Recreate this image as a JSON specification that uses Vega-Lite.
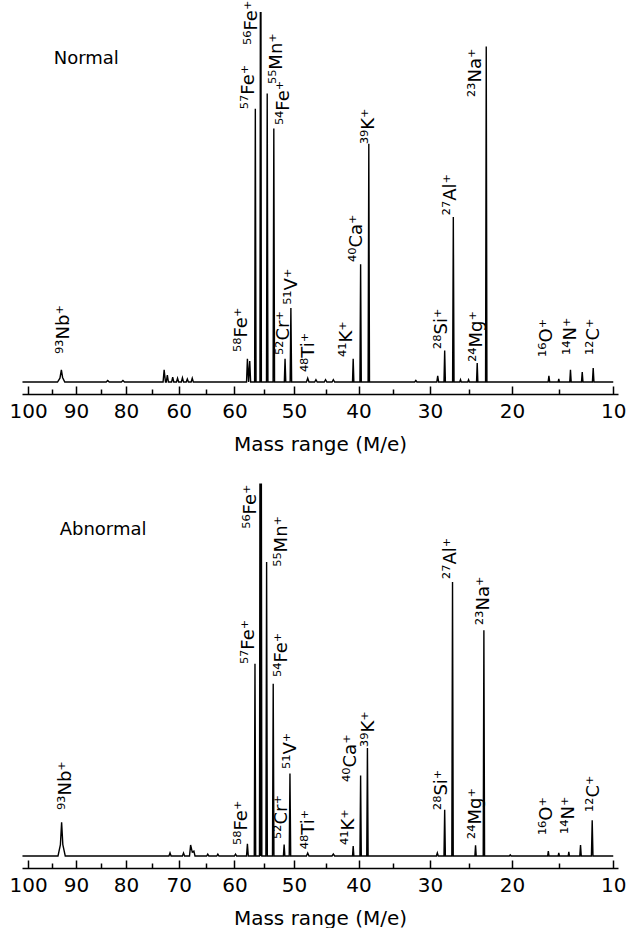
{
  "$schema": "https://vega.github.io/schema/vega-lite/v6.json",
  "padding": {"left": 8, "top": 0, "right": 0, "bottom": 0},
  "bounds": "flush",
  "spacing": 94,
  "background": "white",
  "resolve": {"scale": {"x": "independent", "y": "independent"}, "axis": {"x": "independent"}},
  "config": {"view": {"stroke": null}, "font": "DejaVu Sans"},
  "datasets": {
    "spec": [
      {"panel":"Normal","mass":101.2,"intensity":0},
      {"panel":"Normal","mass":93.8,"intensity":0},{"panel":"Normal","mass":93.3,"intensity":1.0},{"panel":"Normal","mass":93.0,"intensity":3.2},{"panel":"Normal","mass":92.75,"intensity":1.2},{"panel":"Normal","mass":92.3,"intensity":0},
      {"panel":"Normal","mass":83.9,"intensity":0},{"panel":"Normal","mass":83.6,"intensity":0.4},{"panel":"Normal","mass":83.3,"intensity":0},
      {"panel":"Normal","mass":80.9,"intensity":0},{"panel":"Normal","mass":80.6,"intensity":0.4},{"panel":"Normal","mass":80.3,"intensity":0},
      {"panel":"Normal","mass":72.9,"intensity":0},{"panel":"Normal","mass":72.7,"intensity":3.2},{"panel":"Normal","mass":72.45,"intensity":0},
      {"panel":"Normal","mass":72.3,"intensity":0},{"panel":"Normal","mass":72.1,"intensity":1.8},{"panel":"Normal","mass":71.9,"intensity":0},
      {"panel":"Normal","mass":71.3,"intensity":0},{"panel":"Normal","mass":71.1,"intensity":1.3},{"panel":"Normal","mass":70.9,"intensity":0},
      {"panel":"Normal","mass":70.4,"intensity":0},{"panel":"Normal","mass":70.2,"intensity":1.0},{"panel":"Normal","mass":70.0,"intensity":0},
      {"panel":"Normal","mass":69.5,"intensity":0},{"panel":"Normal","mass":69.3,"intensity":1.1},{"panel":"Normal","mass":69.1,"intensity":0},
      {"panel":"Normal","mass":68.6,"intensity":0},{"panel":"Normal","mass":68.4,"intensity":0.8},{"panel":"Normal","mass":68.2,"intensity":0},
      {"panel":"Normal","mass":67.7,"intensity":0},{"panel":"Normal","mass":67.5,"intensity":1.0},{"panel":"Normal","mass":67.3,"intensity":0},
      {"panel":"Normal","mass":57.9,"intensity":0},{"panel":"Normal","mass":57.75,"intensity":6.1},{"panel":"Normal","mass":57.55,"intensity":0},{"panel":"Normal","mass":57.35,"intensity":5.5},{"panel":"Normal","mass":57.2,"intensity":0},
      {"panel":"Normal","mass":56.52,"intensity":0},{"panel":"Normal","mass":56.4,"intensity":71.9},{"panel":"Normal","mass":56.28,"intensity":0},
      {"panel":"Normal","mass":55.62,"intensity":0},{"panel":"Normal","mass":55.55,"intensity":97.4},{"panel":"Normal","mass":55.5,"intensity":0},{"panel":"Normal","mass":55.45,"intensity":97.4},{"panel":"Normal","mass":55.38,"intensity":0},
      {"panel":"Normal","mass":54.52,"intensity":0},{"panel":"Normal","mass":54.4,"intensity":75.9},{"panel":"Normal","mass":54.28,"intensity":0},
      {"panel":"Normal","mass":53.42,"intensity":0},{"panel":"Normal","mass":53.3,"intensity":66.7},{"panel":"Normal","mass":53.18,"intensity":0},
      {"panel":"Normal","mass":51.57,"intensity":0},{"panel":"Normal","mass":51.45,"intensity":6.1},{"panel":"Normal","mass":51.33,"intensity":0},
      {"panel":"Normal","mass":50.62,"intensity":0},{"panel":"Normal","mass":50.5,"intensity":19.5},{"panel":"Normal","mass":50.38,"intensity":0},
      {"panel":"Normal","mass":48.0,"intensity":0},{"panel":"Normal","mass":47.8,"intensity":1.0},{"panel":"Normal","mass":47.6,"intensity":0},
      {"panel":"Normal","mass":46.7,"intensity":0},{"panel":"Normal","mass":46.5,"intensity":0.6},{"panel":"Normal","mass":46.3,"intensity":0},
      {"panel":"Normal","mass":45.2,"intensity":0},{"panel":"Normal","mass":45.0,"intensity":0.6},{"panel":"Normal","mass":44.8,"intensity":0},
      {"panel":"Normal","mass":44.0,"intensity":0},{"panel":"Normal","mass":43.8,"intensity":0.6},{"panel":"Normal","mass":43.6,"intensity":0},
      {"panel":"Normal","mass":40.9,"intensity":0},{"panel":"Normal","mass":40.8,"intensity":6.1},{"panel":"Normal","mass":40.7,"intensity":0},
      {"panel":"Normal","mass":39.8,"intensity":0},{"panel":"Normal","mass":39.7,"intensity":31.0},{"panel":"Normal","mass":39.6,"intensity":0},
      {"panel":"Normal","mass":38.6,"intensity":0},{"panel":"Normal","mass":38.5,"intensity":62.7},{"panel":"Normal","mass":38.4,"intensity":0},
      {"panel":"Normal","mass":32.05,"intensity":0},{"panel":"Normal","mass":31.9,"intensity":0.4},{"panel":"Normal","mass":31.75,"intensity":0},
      {"panel":"Normal","mass":29.12,"intensity":0},{"panel":"Normal","mass":29.0,"intensity":1.6},{"panel":"Normal","mass":28.88,"intensity":0},
      {"panel":"Normal","mass":28.19,"intensity":0},{"panel":"Normal","mass":28.1,"intensity":8.3},{"panel":"Normal","mass":28.01,"intensity":0},
      {"panel":"Normal","mass":27.09,"intensity":0},{"panel":"Normal","mass":27.0,"intensity":43.4},{"panel":"Normal","mass":26.91,"intensity":0},
      {"panel":"Normal","mass":26.2,"intensity":0},{"panel":"Normal","mass":26.1,"intensity":0.6},{"panel":"Normal","mass":26.0,"intensity":0},
      {"panel":"Normal","mass":25.2,"intensity":0},{"panel":"Normal","mass":25.1,"intensity":0.6},{"panel":"Normal","mass":25.0,"intensity":0},
      {"panel":"Normal","mass":24.13,"intensity":0},{"panel":"Normal","mass":24.05,"intensity":5.0},{"panel":"Normal","mass":23.97,"intensity":0},
      {"panel":"Normal","mass":23.05,"intensity":0},{"panel":"Normal","mass":22.97,"intensity":88.3},{"panel":"Normal","mass":22.89,"intensity":0},
      {"panel":"Normal","mass":16.12,"intensity":0},{"panel":"Normal","mass":16.04,"intensity":1.6},{"panel":"Normal","mass":15.96,"intensity":0},
      {"panel":"Normal","mass":15.1,"intensity":0},{"panel":"Normal","mass":15.04,"intensity":0.8},{"panel":"Normal","mass":14.98,"intensity":0},
      {"panel":"Normal","mass":13.96,"intensity":0},{"panel":"Normal","mass":13.89,"intensity":3.2},{"panel":"Normal","mass":13.82,"intensity":0},
      {"panel":"Normal","mass":12.84,"intensity":0},{"panel":"Normal","mass":12.77,"intensity":2.6},{"panel":"Normal","mass":12.7,"intensity":0},
      {"panel":"Normal","mass":11.83,"intensity":0},{"panel":"Normal","mass":11.76,"intensity":3.7},{"panel":"Normal","mass":11.69,"intensity":0},
      {"panel":"Normal","mass":10.0,"intensity":0},

      {"panel":"Abnormal","mass":101.2,"intensity":0},
      {"panel":"Abnormal","mass":93.7,"intensity":0},{"panel":"Abnormal","mass":93.2,"intensity":3.0},{"panel":"Abnormal","mass":92.95,"intensity":8.9},{"panel":"Abnormal","mass":92.7,"intensity":3.0},{"panel":"Abnormal","mass":92.2,"intensity":0},
      {"panel":"Abnormal","mass":71.8,"intensity":0},{"panel":"Abnormal","mass":71.6,"intensity":0.8},{"panel":"Abnormal","mass":71.4,"intensity":0},
      {"panel":"Abnormal","mass":69.3,"intensity":0},{"panel":"Abnormal","mass":69.1,"intensity":0.8},{"panel":"Abnormal","mass":68.9,"intensity":0},
      {"panel":"Abnormal","mass":68.0,"intensity":0},{"panel":"Abnormal","mass":67.8,"intensity":2.9},{"panel":"Abnormal","mass":67.5,"intensity":1.0},{"panel":"Abnormal","mass":67.2,"intensity":1.3},{"panel":"Abnormal","mass":67.0,"intensity":0},
      {"panel":"Abnormal","mass":64.9,"intensity":0},{"panel":"Abnormal","mass":64.7,"intensity":0.5},{"panel":"Abnormal","mass":64.5,"intensity":0},
      {"panel":"Abnormal","mass":63.1,"intensity":0},{"panel":"Abnormal","mass":62.9,"intensity":0.5},{"panel":"Abnormal","mass":62.7,"intensity":0},
      {"panel":"Abnormal","mass":60.0,"intensity":0},{"panel":"Abnormal","mass":59.8,"intensity":0.5},{"panel":"Abnormal","mass":59.6,"intensity":0},
      {"panel":"Abnormal","mass":57.9,"intensity":0},{"panel":"Abnormal","mass":57.75,"intensity":3.2},{"panel":"Abnormal","mass":57.6,"intensity":0},
      {"panel":"Abnormal","mass":56.58,"intensity":0},{"panel":"Abnormal","mass":56.46,"intensity":50.6},{"panel":"Abnormal","mass":56.34,"intensity":0},
      {"panel":"Abnormal","mass":55.7,"intensity":0},{"panel":"Abnormal","mass":55.62,"intensity":98.0},{"panel":"Abnormal","mass":55.5,"intensity":0},{"panel":"Abnormal","mass":55.38,"intensity":98.0},{"panel":"Abnormal","mass":55.3,"intensity":0},
      {"panel":"Abnormal","mass":54.62,"intensity":0},{"panel":"Abnormal","mass":54.5,"intensity":77.4},{"panel":"Abnormal","mass":54.38,"intensity":0},
      {"panel":"Abnormal","mass":53.52,"intensity":0},{"panel":"Abnormal","mass":53.4,"intensity":45.3},{"panel":"Abnormal","mass":53.28,"intensity":0},
      {"panel":"Abnormal","mass":51.72,"intensity":0},{"panel":"Abnormal","mass":51.6,"intensity":3.0},{"panel":"Abnormal","mass":51.48,"intensity":0},
      {"panel":"Abnormal","mass":50.77,"intensity":0},{"panel":"Abnormal","mass":50.65,"intensity":21.7},{"panel":"Abnormal","mass":50.53,"intensity":0},
      {"panel":"Abnormal","mass":48.0,"intensity":0},{"panel":"Abnormal","mass":47.8,"intensity":0.8},{"panel":"Abnormal","mass":47.6,"intensity":0},
      {"panel":"Abnormal","mass":44.0,"intensity":0},{"panel":"Abnormal","mass":43.8,"intensity":0.5},{"panel":"Abnormal","mass":43.6,"intensity":0},
      {"panel":"Abnormal","mass":40.9,"intensity":0},{"panel":"Abnormal","mass":40.8,"intensity":2.6},{"panel":"Abnormal","mass":40.7,"intensity":0},
      {"panel":"Abnormal","mass":39.8,"intensity":0},{"panel":"Abnormal","mass":39.7,"intensity":21.2},{"panel":"Abnormal","mass":39.6,"intensity":0},
      {"panel":"Abnormal","mass":38.8,"intensity":0},{"panel":"Abnormal","mass":38.7,"intensity":28.4},{"panel":"Abnormal","mass":38.6,"intensity":0},
      {"panel":"Abnormal","mass":29.17,"intensity":0},{"panel":"Abnormal","mass":29.05,"intensity":0.8},{"panel":"Abnormal","mass":28.93,"intensity":0},
      {"panel":"Abnormal","mass":28.19,"intensity":0},{"panel":"Abnormal","mass":28.1,"intensity":12.2},{"panel":"Abnormal","mass":28.01,"intensity":0},
      {"panel":"Abnormal","mass":27.19,"intensity":0},{"panel":"Abnormal","mass":27.1,"intensity":72.1},{"panel":"Abnormal","mass":27.01,"intensity":0},
      {"panel":"Abnormal","mass":24.33,"intensity":0},{"panel":"Abnormal","mass":24.25,"intensity":2.8},{"panel":"Abnormal","mass":24.17,"intensity":0},
      {"panel":"Abnormal","mass":23.33,"intensity":0},{"panel":"Abnormal","mass":23.25,"intensity":59.4},{"panel":"Abnormal","mass":23.17,"intensity":0},
      {"panel":"Abnormal","mass":20.3,"intensity":0},{"panel":"Abnormal","mass":20.2,"intensity":0.3},{"panel":"Abnormal","mass":20.1,"intensity":0},
      {"panel":"Abnormal","mass":16.17,"intensity":0},{"panel":"Abnormal","mass":16.1,"intensity":1.3},{"panel":"Abnormal","mass":16.03,"intensity":0},
      {"panel":"Abnormal","mass":15.1,"intensity":0},{"panel":"Abnormal","mass":15.04,"intensity":0.8},{"panel":"Abnormal","mass":14.98,"intensity":0},
      {"panel":"Abnormal","mass":14.11,"intensity":0},{"panel":"Abnormal","mass":14.05,"intensity":1.1},{"panel":"Abnormal","mass":13.99,"intensity":0},
      {"panel":"Abnormal","mass":13.0,"intensity":0},{"panel":"Abnormal","mass":12.93,"intensity":2.9},{"panel":"Abnormal","mass":12.86,"intensity":0},
      {"panel":"Abnormal","mass":11.92,"intensity":0},{"panel":"Abnormal","mass":11.85,"intensity":9.4},{"panel":"Abnormal","mass":11.78,"intensity":0},
      {"panel":"Abnormal","mass":10.0,"intensity":0}
    ],
    "labels": [
      {"panel":"Normal","label":"⁹³Nb⁺","mass":92.4,"intensity":7.4},
      {"panel":"Normal","label":"⁵⁸Fe⁺","mass":58.65,"intensity":7.9},
      {"panel":"Normal","label":"⁵⁷Fe⁺","mass":57.45,"intensity":71.8},
      {"panel":"Normal","label":"⁵⁶Fe⁺","mass":56.9,"intensity":88.7},
      {"panel":"Normal","label":"⁵⁵Mn⁺","mass":52.75,"intensity":78.4},
      {"panel":"Normal","label":"⁵⁴Fe⁺","mass":51.6,"intensity":67.6},
      {"panel":"Normal","label":"⁵²Cr⁺","mass":51.6,"intensity":7.1},
      {"panel":"Normal","label":"⁵¹V⁺","mass":50.3,"intensity":20.3},
      {"panel":"Normal","label":"⁴⁸Ti⁺","mass":47.6,"intensity":2.6},
      {"panel":"Normal","label":"⁴¹K⁺","mass":41.7,"intensity":6.6},
      {"panel":"Normal","label":"⁴⁰Ca⁺","mass":40.2,"intensity":31.6},
      {"panel":"Normal","label":"³⁹K⁺","mass":38.45,"intensity":62.6},
      {"panel":"Normal","label":"²⁸Si⁺","mass":28.4,"intensity":8.7},
      {"panel":"Normal","label":"²⁷Al⁺","mass":27.3,"intensity":43.9},
      {"panel":"Normal","label":"²⁴Mg⁺","mass":24.07,"intensity":5.3},
      {"panel":"Normal","label":"²³Na⁺","mass":24.2,"intensity":75.0},
      {"panel":"Normal","label":"¹⁶O⁺","mass":16.2,"intensity":6.6},
      {"panel":"Normal","label":"¹⁴N⁺","mass":13.8,"intensity":7.1},
      {"panel":"Normal","label":"¹²C⁺","mass":11.7,"intensity":7.1},
      {"panel":"Abnormal","label":"⁹³Nb⁺","mass":92.0,"intensity":12.1},
      {"panel":"Abnormal","label":"⁵⁸Fe⁺","mass":58.65,"intensity":2.9},
      {"panel":"Abnormal","label":"⁵⁷Fe⁺","mass":57.45,"intensity":50.5},
      {"panel":"Abnormal","label":"⁵⁶Fe⁺","mass":57.1,"intensity":86.1},
      {"panel":"Abnormal","label":"⁵⁵Mn⁺","mass":51.9,"intensity":76.1},
      {"panel":"Abnormal","label":"⁵⁴Fe⁺","mass":51.9,"intensity":47.1},
      {"panel":"Abnormal","label":"⁵²Cr⁺","mass":51.9,"intensity":4.5},
      {"panel":"Abnormal","label":"⁵¹V⁺","mass":50.45,"intensity":22.9},
      {"panel":"Abnormal","label":"⁴⁸Ti⁺","mass":47.6,"intensity":1.8},
      {"panel":"Abnormal","label":"⁴¹K⁺","mass":41.4,"intensity":2.9},
      {"panel":"Abnormal","label":"⁴⁰Ca⁺","mass":41.1,"intensity":19.5},
      {"panel":"Abnormal","label":"³⁹K⁺","mass":38.45,"intensity":28.7},
      {"panel":"Abnormal","label":"²⁸Si⁺","mass":28.4,"intensity":12.1},
      {"panel":"Abnormal","label":"²⁷Al⁺","mass":27.3,"intensity":72.9},
      {"panel":"Abnormal","label":"²⁴Mg⁺","mass":24.2,"intensity":4.5},
      {"panel":"Abnormal","label":"²³Na⁺","mass":23.2,"intensity":60.8},
      {"panel":"Abnormal","label":"¹⁶O⁺","mass":16.2,"intensity":5.5},
      {"panel":"Abnormal","label":"¹⁴N⁺","mass":14.0,"intensity":5.8},
      {"panel":"Abnormal","label":"¹²C⁺","mass":11.7,"intensity":11.6}
    ],
    "names": [
      {"panel":"Normal","name":"Normal","mass":94.6,"intensity":85.0},
      {"panel":"Abnormal","name":"Abnormal","mass":93.35,"intensity":85.8}
    ]
  },
  "vconcat": [
    {
      "width": 596, "height": 380,
      "encoding": {
        "x": {"field": "mass", "type": "quantitative",
          "scale": {"type": "pow", "exponent": 0.6, "domain": [9.6, 101.3], "reverse": true, "zero": false, "nice": false},
          "axis": {"title": "Mass range (M/e)", "values": [10,15,20,25,30,35,40,45,50,55,60,65,70,75,80,85,90,95,100],
            "labelExpr": "datum.value % 10 != 0 ? '' : (abs(datum.value - 70) < 1 ? '60' : datum.label)",
            "offset": 12, "grid": false, "ticks": true,
            "tickSize": {"condition": {"test": "datum.value % 10 == 0", "value": -8}, "value": -5},
            "tickColor": "black", "tickWidth": 1.5, "tickOpacity": 1, "domainColor": "black", "domainWidth": 1.5,
            "labelFont": "DejaVu Sans", "labelFontSize": 20, "labelColor": "black", "labelPadding": 15,
            "labelOverlap": false, "labelFlush": false,
            "titleFont": "DejaVu Sans", "titleFontSize": 20, "titleFontWeight": "normal", "titleColor": "black", "titlePadding": 10}},
        "y": {"field": "intensity", "type": "quantitative", "scale": {"domain": [0, 100], "nice": false, "zero": true}, "axis": null}
      },
      "layer": [
        {
          "data": {"name": "spec"},
          "transform": [{"filter": "datum.panel === 'Normal'"}],
          "mark": {"type": "line", "color": "black", "strokeWidth": 1.4, "clip": false}
        },
        {
          "data": {"name": "labels"},
          "transform": [{"filter": "datum.panel === 'Normal'"}],
          "mark": {"type": "text", "angle": 270, "align": "left", "baseline": "middle", "font": "DejaVu Sans", "fontSize": 18, "color": "black"},
          "encoding": {"text": {"field": "label"}}
        },
        {
          "data": {"name": "names"},
          "transform": [{"filter": "datum.panel === 'Normal'"}],
          "mark": {"type": "text", "align": "left", "baseline": "middle", "font": "DejaVu Sans", "fontSize": 18, "color": "black"},
          "encoding": {"text": {"field": "name"}}
        }
      ]
    },
    {
      "width": 596, "height": 380,
      "encoding": {
        "x": {"field": "mass", "type": "quantitative",
          "scale": {"type": "pow", "exponent": 0.6, "domain": [9.6, 101.3], "reverse": true, "zero": false, "nice": false},
          "axis": {"title": "Mass range (M/e)", "values": [10,15,20,25,30,35,40,45,50,55,60,65,70,75,80,85,90,95,100],
            "labelExpr": "datum.value % 10 != 0 ? '' : datum.label",
            "offset": 12, "grid": false, "ticks": true,
            "tickSize": {"condition": {"test": "datum.value % 10 == 0", "value": -8}, "value": -5},
            "tickColor": "black", "tickWidth": 1.5, "tickOpacity": 1, "domainColor": "black", "domainWidth": 1.5,
            "labelFont": "DejaVu Sans", "labelFontSize": 20, "labelColor": "black", "labelPadding": 15,
            "labelOverlap": false, "labelFlush": false,
            "titleFont": "DejaVu Sans", "titleFontSize": 20, "titleFontWeight": "normal", "titleColor": "black", "titlePadding": 10}},
        "y": {"field": "intensity", "type": "quantitative", "scale": {"domain": [0, 100], "nice": false, "zero": true}, "axis": null}
      },
      "layer": [
        {
          "data": {"name": "spec"},
          "transform": [{"filter": "datum.panel === 'Abnormal'"}],
          "mark": {"type": "line", "color": "black", "strokeWidth": 1.4, "clip": false}
        },
        {
          "data": {"name": "labels"},
          "transform": [{"filter": "datum.panel === 'Abnormal'"}],
          "mark": {"type": "text", "angle": 270, "align": "left", "baseline": "middle", "font": "DejaVu Sans", "fontSize": 18, "color": "black"},
          "encoding": {"text": {"field": "label"}}
        },
        {
          "data": {"name": "names"},
          "transform": [{"filter": "datum.panel === 'Abnormal'"}],
          "mark": {"type": "text", "align": "left", "baseline": "middle", "font": "DejaVu Sans", "fontSize": 18, "color": "black"},
          "encoding": {"text": {"field": "name"}}
        }
      ]
    }
  ]
}
